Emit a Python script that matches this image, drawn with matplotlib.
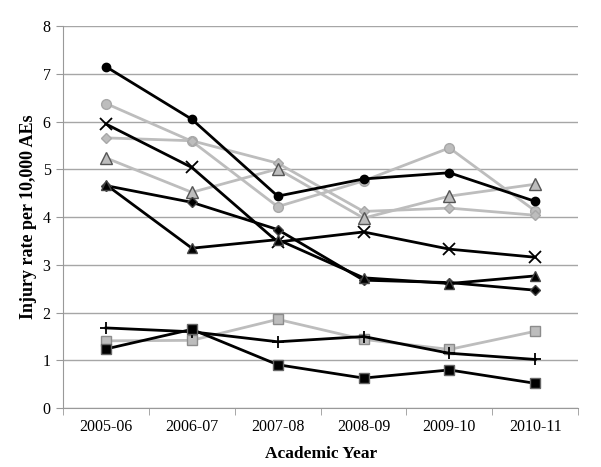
import numpy as np
import matplotlib
matplotlib.use("Agg")
import matplotlib.pyplot as plt

plt.rcParams['font.family'] = ['Liberation Serif', 'DejaVu Serif']

years = ['2005-06', '2006-07', '2007-08', '2008-09', '2009-10', '2010-11']

# black series
blk_circle = [7.15, 6.05, 4.44, 4.80, 4.93, 4.33]
blk_x = [5.95, 5.04, 3.48, 3.69, 3.33, 3.16]
blk_diamond = [4.66, 4.31, 3.74, 2.68, 2.63, 2.47]
blk_triangle = [4.68, 3.35, 3.53, 2.73, 2.61, 2.77]
blk_plus = [1.68, 1.60, 1.39, 1.50, 1.15, 1.02]
blk_square = [1.24, 1.65, 0.91, 0.63, 0.80, 0.52]

# gray series
gry_circle = [6.38, 5.59, 4.22, 4.76, 5.45, 4.13]
gry_diamond = [5.66, 5.60, 5.13, 4.12, 4.19, 4.04]
gry_triangle = [5.24, 4.52, 5.01, 3.98, 4.44, 4.69]
gry_square = [1.41, 1.42, 1.86, 1.44, 1.23, 1.61]

x = np.arange(len(years))

fig = plt.figure(figsize=(6.01, 4.67), dpi=100)
ax = fig.add_axes([0.105, 0.126, 0.857, 0.818])

gray = '#bdbdbd'
edge = '#8c8c8c'
lw = 2.0

# gray lines underneath
ax.plot(x, gry_circle, color=gray, lw=lw, marker='o', ms=7, mfc=gray, mec='#a8a8a8')
ax.plot(x, gry_diamond, color=gray, lw=lw, marker='D', ms=5, mfc=gray, mec='#a8a8a8')
ax.plot(x, gry_triangle, color=gray, lw=lw, marker='^', ms=8, mfc=gray, mec='#555555')
ax.plot(x, gry_square, color=gray, lw=lw, marker='s', ms=7, mfc=gray, mec=edge)

ax.plot(x, blk_circle, color='black', lw=lw, marker='o', ms=6, mfc='black', mec='black')
ax.plot(x, blk_x, color='black', lw=lw, marker='x', ms=8, mew=1.3)
ax.plot(x, blk_diamond, color='black', lw=lw, marker='D', ms=5.5, mfc='black', mec='#444444')
ax.plot(x, blk_triangle, color='black', lw=lw, marker='^', ms=7, mfc='black', mec='#444444')
ax.plot(x, blk_plus, color='black', lw=lw, marker='+', ms=9, mew=1.3)
ax.plot(x, blk_square, color='black', lw=lw, marker='s', ms=6.5, mfc='black', mec='#666666')

ax.set_xlim(-0.5, 5.5)
ax.set_ylim(0, 8)
ax.set_yticks(range(0, 9))
ax.set_xticks(x)
ax.set_xticklabels(years, fontsize=11.5)
ax.set_xticks(np.arange(-0.5, 6, 1), minor=True)
ax.tick_params(axis='x', which='major', length=0, pad=8)
ax.tick_params(axis='x', which='minor', length=5, color='#999999')
ax.tick_params(axis='y', length=5, color='#999999', labelsize=11.5, pad=4)

ax.yaxis.grid(True, color='#a6a6a6', lw=1)
ax.set_axisbelow(True)
for s in ['top', 'right']:
    ax.spines[s].set_visible(False)
for s in ['left', 'bottom']:
    ax.spines[s].set_color('#999999')

ax.set_xlabel('Academic Year', fontsize=12.5, fontweight='bold', labelpad=8)
ax.set_ylabel('Injury rate per 10,000 AEs', fontsize=13, fontweight='bold', labelpad=4)

fig.savefig('out.png', dpi=100)
